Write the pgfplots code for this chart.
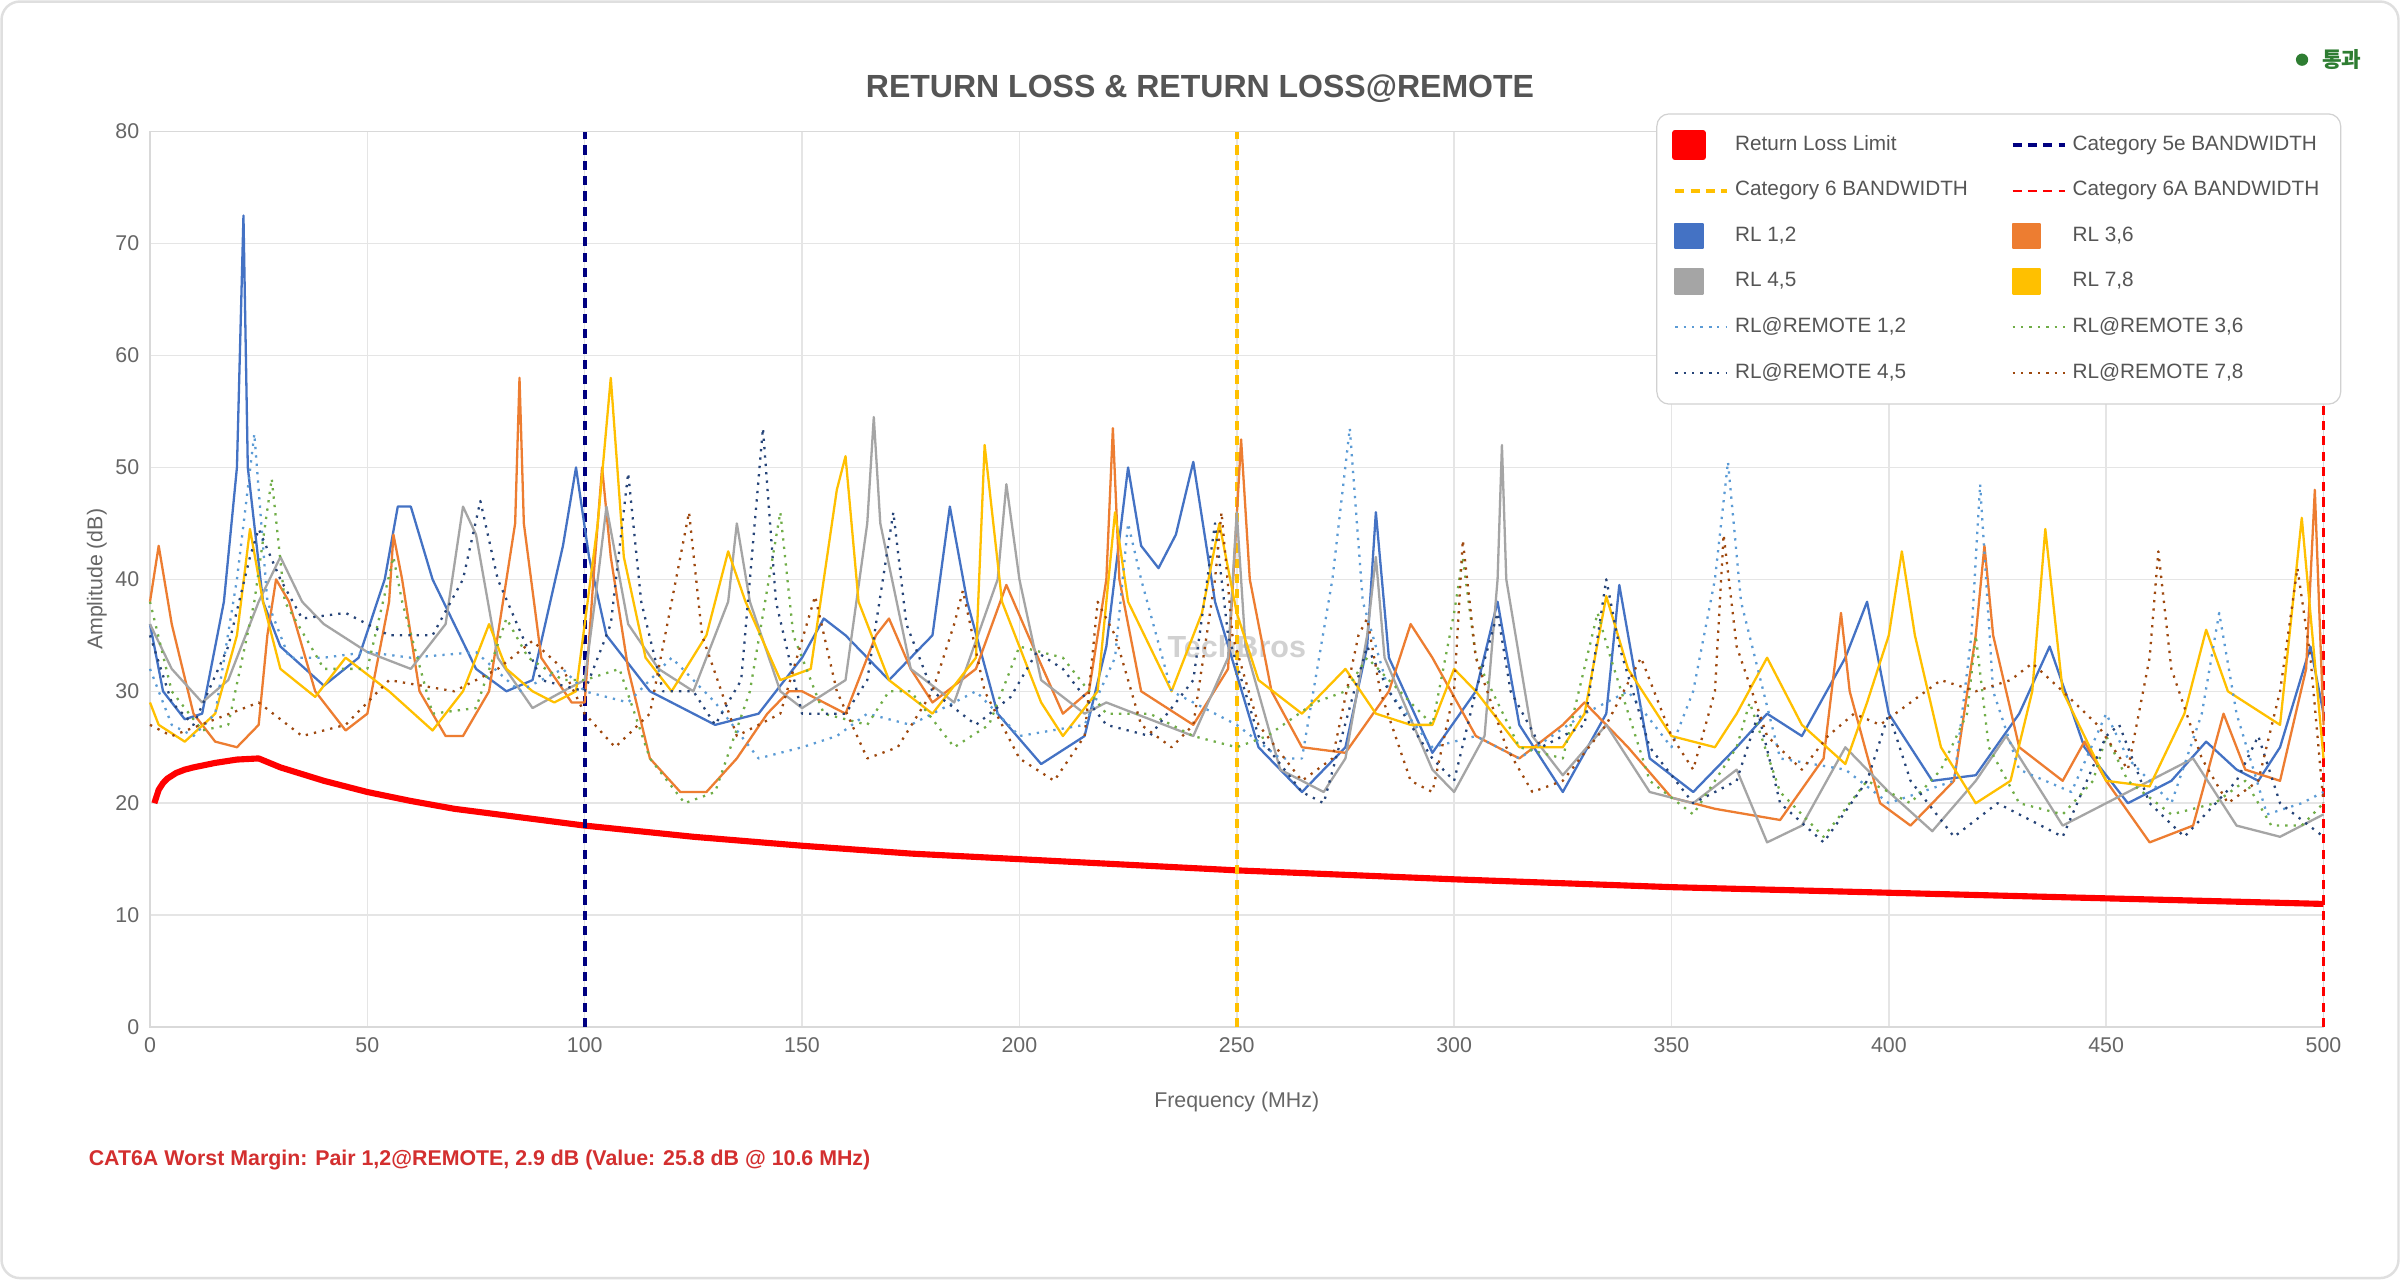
\documentclass[border=0pt]{standalone}
\usepackage{fontspec}
\setmainfont{Liberation Sans}
\newfontfamily\kr{Noto Sans CJK KR}
\usepackage{pgfplots}
\pgfplotsset{compat=1.18}
\definecolor{c12}{HTML}{4472C4}
\definecolor{c36}{HTML}{ED7D31}
\definecolor{c45}{HTML}{A5A5A5}
\definecolor{c78}{HTML}{FFC000}
\definecolor{r12}{HTML}{5B9BD5}
\definecolor{r36}{HTML}{70AD47}
\definecolor{r45}{HTML}{264478}
\definecolor{r78}{HTML}{9E480E}
\definecolor{navyd}{HTML}{000080}
\definecolor{gold}{HTML}{FFC000}
\definecolor{txt}{HTML}{666666}
\definecolor{ttl}{HTML}{555555}
\definecolor{foot}{HTML}{D32F2F}
\definecolor{okg}{HTML}{2E7D32}
\begin{document}
\begin{tikzpicture}[x=1bp,y=1bp]
\fill[white] (-49,-82.5) rectangle (735,335.5);
\draw[gray!25,line width=0.8bp,rounded corners=6bp] (-48.5,-82) rectangle (734.5,335);
\node[font=\bfseries\fontsize{10.5}{13}\selectfont,text=ttl] at (343,306.5) {RETURN LOSS \& RETURN LOSS@REMOTE};
\fill[okg] (703,316) circle (2bp);
\node[anchor=west,font=\fontsize{7}{8}\selectfont,text=okg] at (706,316) {\kr\bfseries 통과};
\node[anchor=west,font=\bfseries\fontsize{7}{8}\selectfont,text=foot] at (-23.5,-43.5) {CAT6A Worst Margin: Pair 1,2@REMOTE, 2.9 dB (Value: 25.8 dB @ 10.6 MHz)};
\begin{axis}[at={(0,0)},anchor=south west,scale only axis,width=710bp,height=292.5bp,
 xmin=0,xmax=500,ymin=0,ymax=80,xtick={0,50,...,500},ytick={0,10,...,80},
 grid=major,major grid style={draw=black!10,line width=0.5bp},
 axis line style={draw=black!15},tick style={draw=none},
 tick label style={font=\fontsize{7}{8}\selectfont,text=txt},
 /pgf/number format/assume math mode=true,
 xlabel={Frequency (MHz)},ylabel={Amplitude (dB)},
 label style={font=\fontsize{7}{8}\selectfont,text=txt},
 xlabel style={yshift=-6bp},ylabel style={yshift=-4bp},
 clip=false,
 legend columns=2,
 legend cell align=left,
 legend style={at={(0.693,1.0205)},anchor=north west,draw=black!18,rounded corners=4bp,
   font=\fontsize{6.8}{8}\selectfont,text=ttl,row sep=4.6bp,
   /tikz/every even column/.append style={column sep=12bp},inner xsep=5bp,inner ysep=5bp},
 every axis plot/.append style={line width=0.75bp,mark=none,line join=round},
]
\node[text=black!18,font=\bfseries\fontsize{10}{12}\selectfont] at (axis cs:250,34) {TechBros};
% Return loss limit
\addplot[red,line width=2bp,legend image code/.code={\fill[red,sharp corners] (0bp,-4bp) rectangle (9bp,4bp);}] coordinates {
(1,20)(2,21.2)(3,21.8)(4,22.2)(6,22.7)(8,23)(10,23.2)(15,23.6)(20,23.9)(25,24)
(30,23.2)(40,22)(50,21)(60,20.2)(70,19.5)(80,19)(100,18)(125,17)(150,16.2)(175,15.5)(200,15)
(250,14)(300,13.2)(350,12.5)(400,12)(450,11.5)(500,11)};
\addlegendentry{Return Loss Limit}
\addplot[navyd,line width=1.2bp,dash pattern=on 3bp off 2bp] coordinates {(100,0)(100,80)};
\addlegendentry{Category 5e BANDWIDTH}
\addplot[gold,line width=1.2bp,dash pattern=on 3bp off 2bp] coordinates {(250,0)(250,80)};
\addlegendentry{Category 6 BANDWIDTH}
\addplot[red,line width=0.8bp,dash pattern=on 3bp off 2bp] coordinates {(500,0)(500,80)};
\addlegendentry{Category 6A BANDWIDTH}
% RL 1,2
\addplot[c12,legend image code/.code={\fill[c12,sharp corners] (0bp,-4bp) rectangle (9bp,4bp);}] coordinates {
(0,36)(3,30)(8,27.5)(12,28)(17,38)(20,50)(21.5,72.5)(22.5,50)(26,38)(30,34)(40,30.5)(48,33)(54,40)(57,46.5)(60,46.5)(65,40)(75,32)(82,30)(88,31)(95,43)(98,50)(101,42)(105,35)(115,30)(130,27)(140,28)(150,33)(155,36.5)(160,35)(170,31)(180,35)(184,46.5)(188,38)(195,28)(205,23.5)(215,26)(220,34)(225,50)(228,43)(232,41)(236,44)(240,50.5)(245,38)(255,25)(265,21)(275,25)(280,34)(282,46)(285,33)(295,24.5)(305,30)(310,38)(315,27)(325,21)(335,28)(338,39.5)(345,24)(355,21)(365,25)(372,28)(380,26)(390,33)(395,38)(400,28)(410,22)(420,22.5)(430,28)(437,34)(445,25)(455,20)(465,22)(473,25.5)(480,23)(485,22)(490,25)(497,34)(500,28)};
\addlegendentry{RL 1,2}
% RL 3,6
\addplot[c36,legend image code/.code={\fill[c36,sharp corners] (0bp,-4bp) rectangle (9bp,4bp);}] coordinates {
(0,38)(2,43)(5,36)(10,28)(15,25.5)(20,25)(25,27)(27,35)(29,40)(32,38)(38,30)(45,26.5)(50,28)(55,38)(56,44)(58,40)(62,30)(68,26)(72,26)(78,30)(84,45)(85,58)(86,45)(90,33)(97,29)(100,29)(102,40)(104,50)(106,42)(110,32)(115,24)(122,21)(128,21)(135,24)(142,28)(147,30)(150,30)(160,28)(167,35)(170,36.5)(175,32)(180,29)(190,32)(197,39.5)(202,35)(210,28)(216,30)(220,40)(221.5,53.5)(223,40)(228,30)(240,27)(248,32)(251,52.5)(253,40)(258,30)(265,25)(275,24.5)(285,30)(290,36)(295,33)(305,26)(315,24)(325,27)(330,29)(340,25)(350,20.5)(360,19.5)(375,18.5)(385,24)(389,37)(391,30)(398,20)(405,18)(415,22)(420,35)(422,43)(424,35)(430,25)(440,22)(445,25.5)(450,22)(460,16.5)(470,18)(477,28)(482,23)(490,22)(496,32)(498,48)(500,27)};
\addlegendentry{RL 3,6}
% RL 4,5
\addplot[c45,legend image code/.code={\fill[c45,sharp corners] (0bp,-4bp) rectangle (9bp,4bp);}] coordinates {
(0,36)(5,32)(12,29)(18,31)(25,38)(30,42)(35,38)(40,36)(50,33.5)(60,32)(68,36)(72,46.5)(75,44)(80,33)(88,28.5)(95,30)(100,31)(103,40)(105,46.5)(110,36)(117,32)(125,30)(133,38)(135,45)(138,38)(145,30)(150,28.5)(160,31)(165,45)(166.5,54.5)(168,45)(175,32)(185,29)(195,40)(197,48.5)(200,40)(205,31)(215,28)(220,29)(240,26)(248,33)(250,46)(252,34)(260,23)(270,21)(275,24)(280,35)(282,42)(284,33)(295,23)(300,21)(307,26)(310,40)(311,52)(312,40)(318,26)(325,22.5)(335,27)(345,21)(355,20)(365,23)(372,16.5)(380,18)(390,25)(400,21)(410,17.5)(420,22)(427,26)(440,18)(450,20)(460,22)(470,24)(480,18)(490,17)(500,19)};
\addlegendentry{RL 4,5}
% RL 7,8
\addplot[c78,legend image code/.code={\fill[c78,sharp corners] (0bp,-4bp) rectangle (9bp,4bp);}] coordinates {
(0,29)(2,27)(8,25.5)(15,28)(20,35)(23,44.5)(26,38)(30,32)(38,29.5)(45,33)(55,30)(65,26.5)(72,30)(78,36)(82,32)(88,30)(93,29)(98,30)(103,45)(106,58)(109,42)(114,33)(120,30)(128,35)(133,42.5)(137,38)(145,31)(152,32)(158,48)(160,51)(163,38)(170,31)(180,28)(190,33)(192,52)(196,38)(205,29)(210,26)(218,30)(222,46)(225,38)(235,30)(242,37)(246,45)(250,37)(255,31)(265,28)(275,32)(282,28)(290,27)(295,27)(300,32)(305,30)(315,25)(325,25)(330,28)(335,38.5)(340,32)(350,26)(360,25)(365,28)(372,33)(380,27)(390,23.5)(395,29)(400,35)(403,42.5)(406,35)(412,25)(420,20)(428,22)(433,30)(436,44.5)(440,30)(450,22)(460,21.5)(468,28)(473,35.5)(478,30)(490,27)(495,45.5)(500,24)};
\addlegendentry{RL 7,8}
% REMOTE 1,2
\addplot[r12,dotted] coordinates {
(0,32)(5,27)(10,26)(15,28)(20,40)(24,53)(27,38)(32,33)(40,33)(50,33.5)(60,33)(75,33.5)(85,30)(95,32)(100,30)(110,29)(120,33)(130,29)(140,24)(150,25)(158,26)(165,28)(175,27)(190,30)(200,26)(215,27)(222,33)(225,45)(228,40)(235,30)(250,27)(260,24)(265,24)(272,40)(276,53.5)(279,38)(285,30)(295,25)(305,26)(315,24)(330,28)(340,30)(350,25)(355,30)(360,40)(363,50.5)(366,38)(375,24)(390,23)(400,20)(415,22)(419,35)(421,48.5)(424,30)(430,23)(442,21)(450,28)(455,24)(465,20)(472,28)(476,37)(480,28)(487,19)(495,20)(500,21)};
\addlegendentry{RL@REMOTE 1,2}
% REMOTE 3,6
\addplot[r36,dotted] coordinates {
(0,38)(5,30)(12,26.5)(18,27)(24,38)(28,49)(31,38)(40,32)(50,32)(56,42)(58,38)(65,28)(75,28.5)(82,36.5)(87,33)(95,31)(100,31)(108,32)(115,24)(123,20)(130,21)(138,30)(145,46)(148,35)(155,28)(165,27)(170,30)(175,30)(185,25)(193,27)(200,34)(210,33)(220,28)(230,28)(240,26)(250,25)(257,26)(268,29)(275,30)(280,33)(295,27)(300,37)(302,42)(305,33)(315,25)(325,24)(333,37)(336,33)(345,22)(355,19)(365,25)(368,29)(375,21)(385,17)(395,22)(405,20)(412,23)(418,28)(420,35)(423,25)(430,20)(440,19)(447,22)(450,26)(455,22)(465,19)(475,20)(482,22)(488,18)(495,18)(500,20)};
\addlegendentry{RL@REMOTE 3,6}
% REMOTE 4,5
\addplot[r45,dotted] coordinates {
(0,35)(5,29)(10,27)(18,34)(23,42)(25,44.5)(30,40)(35,36.5)(45,37)(55,35)(65,35)(72,40)(76,47)(80,40)(90,31)(100,30)(106,36)(110,49.5)(113,38)(118,30)(125,30)(130,27)(136,31)(141,53.5)(144,38)(150,28)(160,28)(165,31)(171,46)(174,36)(180,30)(190,27)(198,29.5)(204,33.5)(210,32)(220,27)(230,26)(240,31)(245,45)(248,35)(255,26)(265,21)(270,20)(277,30)(280,34)(285,30)(295,24)(300,22)(305,30)(310,37)(313,30)(320,25)(330,27)(335,40)(338,34)(345,25)(355,20)(365,22)(370,28)(375,20)(385,16.5)(395,22)(400,28)(405,22)(415,17)(425,20)(440,17)(450,26)(453,27)(460,20)(468,17)(480,22)(485,26)(490,20)(500,17)};
\addlegendentry{RL@REMOTE 4,5}
% REMOTE 7,8
\addplot[r78,dotted] coordinates {
(0,27)(5,26)(15,27.5)(25,29)(35,26)(45,27)(55,31)(70,30)(80,32)(88,34.5)(95,32)(100,28)(107,25)(115,28)(122,42)(124,46)(127,35)(135,26)(145,28)(153,38.5)(158,30)(165,24)(172,25)(180,30)(185,36)(187,39)(192,30)(200,24)(208,22)(215,26)(218,38)(222,35)(228,27)(235,25)(240,27)(245,40)(246.5,46)(249,35)(255,27)(265,22)(272,24)(278,35)(280,36.5)(283,30)(290,22)(295,21)(300,30)(302,43.5)(305,33)(312,25)(318,21)(325,22)(335,27)(343,33)(350,26)(355,23)(360,30)(362,44)(365,34)(372,26)(380,23)(386,26)(392,28)(398,27)(405,29)(412,31)(420,30)(428,31)(433,32.5)(440,30)(448,27)(455,23)(460,33)(462,42.5)(465,32)(472,24)(478,20)(485,22)(490,30)(494,41)(497,33)(500,20)};
\addlegendentry{RL@REMOTE 7,8}
\end{axis}
\end{tikzpicture}
\end{document}
